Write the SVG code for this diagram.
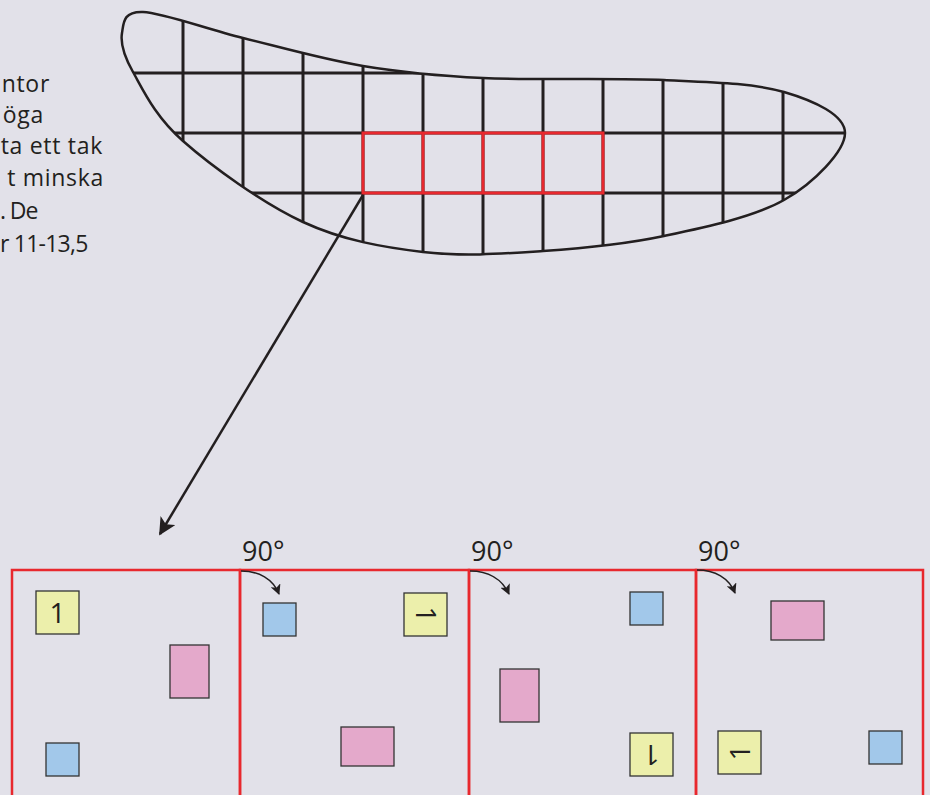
<svg xmlns="http://www.w3.org/2000/svg" width="930" height="795" viewBox="0 0 930 795">
<defs>
<style>
.txt{font-family:"Open Sans","Noto Sans","DejaVu Sans",sans-serif;fill:#231f20}
.body{font-size:23px;letter-spacing:0.7px}
.deg{font-size:27px}
.num{font-size:28px;text-anchor:middle}
.grid{stroke:#231f20;stroke-width:3;fill:none}
.outline{stroke:#231f20;stroke-width:2.5;fill:none}
.red{stroke:#e8282e;stroke-width:3;fill:none}
.panel{stroke:#e8282e;stroke-width:2.5;fill:none}
.y{fill:#ecefab;stroke:#333;stroke-width:1.3}
.p{fill:#e4a9cb;stroke:#333;stroke-width:1.3}
.b{fill:#a2c8ea;stroke:#333;stroke-width:1.3}
.con{stroke:#231f20;stroke-width:2.5;fill:none}
.rot{stroke:#231f20;stroke-width:1.5;fill:none}
</style>
<path id="wingShape" d="M 143,12 C 163.2,12.8 206.3,29 243,38 C 279.7,47 323,59.3 363,66 C 403,72.7 432.8,75.7 483,78 C 533.2,80.3 613.8,77.7 664,80 C 714.2,82.3 753.8,83.2 784,92 C 814.2,100.8 845,115 845,133 C 845,151 814.2,182.8 784,200 C 753.8,217.2 704.2,227.5 664,236 C 623.8,244.5 583.2,248.3 543,251 C 502.8,253.7 463,256.8 423,252 C 383,247.2 343,240.5 303,222 C 263,203.5 211.3,166 183,141 C 154.7,116 143.2,90 133,72 C 122.8,54 120.3,43 122,33 C 123.7,23 122.8,11.2 143,12 Z"/>
<clipPath id="wingClip"><use href="#wingShape"/></clipPath>
<marker id="bigHead" viewBox="0 0 10 10" refX="9" refY="5" markerWidth="7" markerHeight="7" markerUnits="strokeWidth" orient="auto"><path d="M0,0 L10,5 L0,10 L2.5,5 Z" fill="#231f20"/></marker>
<marker id="smallHead" viewBox="0 0 10 10" refX="9" refY="5" markerWidth="7" markerHeight="7" markerUnits="strokeWidth" orient="auto"><path d="M0,0 L10,5 L0,10 L2.5,5 Z" fill="#231f20"/></marker>
</defs>
<rect width="930" height="795" fill="#e2e1e9"/>

<g id="side-text" class="txt body">
<text x="50" y="91.5" text-anchor="end">ntor</text>
<text x="44" y="123" text-anchor="end">öga</text>
<text x="103" y="154" text-anchor="end">ta ett tak</text>
<text x="104" y="186" text-anchor="end">t minska</text>
<text x="0" y="219" textLength="39" lengthAdjust="spacing">. De</text>
<text x="0" y="251.5" textLength="89" lengthAdjust="spacing">r 11-13,5</text>
</g>

<g id="wing">
<g clip-path="url(#wingClip)" class="grid">
<path d="M183,0V260M243,0V260M303,0V260M363,0V260M423,0V260M483,0V260M543,0V260M603,0V260M663,0V260M723,0V260M783,0V260"/>
<path d="M100,73H860M100,133H860M100,193H860"/>
</g>
<use href="#wingShape" class="outline"/>
</g>

<g id="selection">
<rect x="363" y="133" width="240" height="60" class="red"/>
<path d="M423,133V193M483,133V193M543,133V193" class="red"/>
</g>

<g id="panel1">
<rect x="12" y="570" width="228" height="240" class="panel"/>
<rect x="36" y="591" width="43" height="43" class="y"/>
<text x="57.5" y="622.5" class="txt num">1</text>
<rect x="170" y="645" width="39" height="53" class="p"/>
<rect x="46" y="743" width="33" height="33" class="b"/>
</g>

<g id="panel2">
<rect x="240" y="570" width="229" height="240" class="panel"/>
<text x="242" y="561" class="txt deg">90°</text>
<rect x="263" y="603" width="33" height="33" class="b"/>
<rect x="404" y="593" width="43" height="43" class="y"/>
<text x="425.5" y="624.5" class="txt num" transform="rotate(90 425.5 614.5)">1</text>
<rect x="341" y="727" width="53" height="39" class="p"/>
</g>

<g id="panel3">
<rect x="469" y="570" width="227" height="240" class="panel"/>
<text x="471" y="561" class="txt deg">90°</text>
<rect x="630" y="592" width="33" height="33" class="b"/>
<rect x="500" y="669" width="39" height="53" class="p"/>
<rect x="630" y="733" width="43" height="43" class="y"/>
<text x="651.5" y="764.5" class="txt num" transform="rotate(180 651.5 754.5)">1</text>
</g>

<g id="panel4">
<rect x="696" y="570" width="227" height="240" class="panel"/>
<text x="698" y="561" class="txt deg">90°</text>
<rect x="771" y="601" width="53" height="39" class="p"/>
<rect x="718" y="731" width="43" height="43" class="y"/>
<text x="739.5" y="762.5" class="txt num" transform="rotate(270 739.5 752.5)">1</text>
<rect x="869" y="731" width="33" height="33" class="b"/>
</g>

<g id="connectors">
<path d="M363,195 L160,534" class="con" marker-end="url(#bigHead)"/>
<path d="M241,571 C259,571 273,579 279,594" class="rot" marker-end="url(#smallHead)"/>
<path d="M470,571 C488,571 502,579 509,594" class="rot" marker-end="url(#smallHead)"/>
<path d="M697,570 C715,570 729,578 735,593" class="rot" marker-end="url(#smallHead)"/>
</g>
</svg>
